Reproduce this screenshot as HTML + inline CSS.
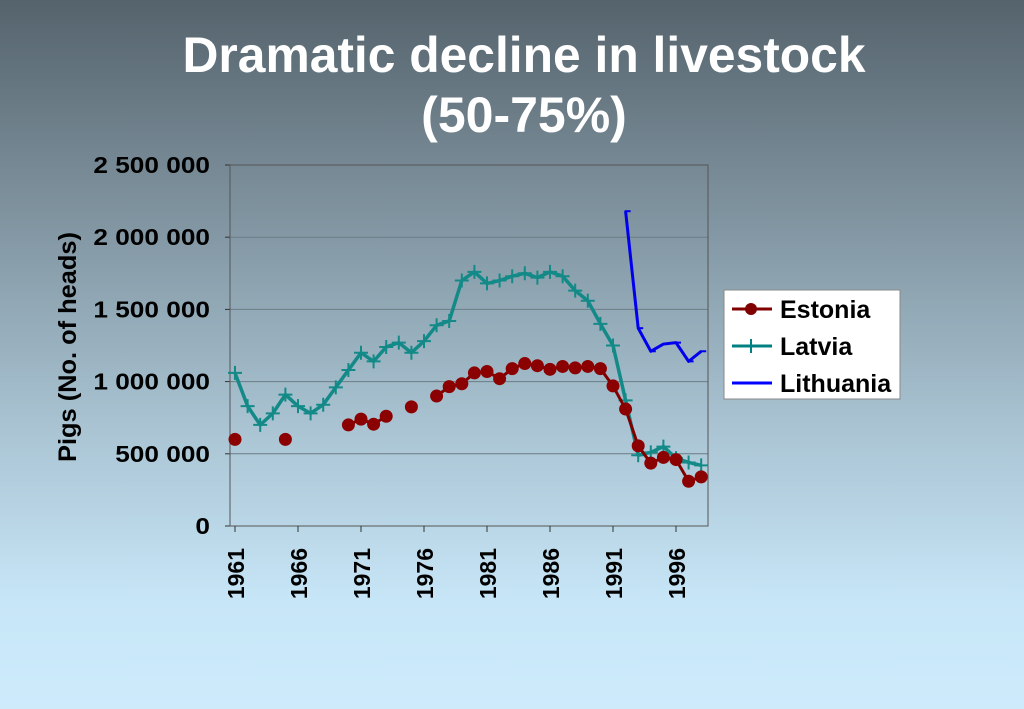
<!DOCTYPE html>
<html><head><meta charset="utf-8"><style>
html,body{margin:0;padding:0}
body{width:1024px;height:709px;overflow:hidden;background:linear-gradient(#55636c 0%,#7f939f 30%,#a9c3d2 60%,#c7e6f7 85%,#cdebfb 100%);font-family:"Liberation Sans",Arial,sans-serif}
svg{display:block}
</style></head><body>
<svg width="1024" height="709">
<text x="524" y="72" text-anchor="middle" font-size="50" font-weight="bold" fill="#fff" textLength="683" lengthAdjust="spacingAndGlyphs">Dramatic decline in livestock</text>
<text x="524" y="132" text-anchor="middle" font-size="50" font-weight="bold" fill="#fff">(50-75%)</text>
<g id="plot"></g>
<text transform="translate(76,347) rotate(-90)" text-anchor="middle" font-size="25" font-weight="bold" fill="#000" textLength="230" lengthAdjust="spacingAndGlyphs">Pigs (No. of heads)</text>
<g>
<rect x="724" y="290" width="176" height="109" fill="#fff" stroke="#888"/>
<g><line x1="732" x2="772" y1="309" y2="309" stroke="#800000" stroke-width="3"/><circle cx="751" cy="309" r="6" fill="#800000"/><text x="780" y="318" font-size="25" font-weight="bold">Estonia</text></g>
<g><line x1="732" x2="772" y1="346" y2="346" stroke="#008080" stroke-width="3"/><line x1="751" x2="751" y1="339" y2="353" stroke="#008080" stroke-width="2"/><text x="780" y="355" font-size="25" font-weight="bold">Latvia</text></g>
<g><line x1="732" x2="772" y1="383" y2="383" stroke="#0000ff" stroke-width="3"/><text x="780" y="392" font-size="25" font-weight="bold">Lithuania</text></g>
</g>
</svg>
<script>
const years=[];for(let y=1961;y<=1998;y++)years.push(y);
const latvia=[1060,830,700,780,910,830,780,840,960,1080,1200,1140,1240,1270,1200,1280,1390,1420,1700,1760,1680,1700,1730,1750,1720,1760,1730,1630,1560,1400,1250,870,490,510,550,470,440,420];
const estonia=[600,null,null,null,600,null,null,null,null,700,740,705,760,null,825,null,900,965,985,1060,1070,1020,1090,1125,1110,1085,1105,1095,1105,1090,970,810,555,435,475,460,310,340];
const lithuania=[null,null,null,null,null,null,null,null,null,null,null,null,null,null,null,null,null,null,null,null,null,null,null,null,null,null,null,null,null,null,null,2180,1370,1210,1260,1270,1140,1210];
const yTicks=[0,500000,1000000,1500000,2000000,2500000];
const yTickLabels=["0","500 000","1 000 000","1 500 000","2 000 000","2 500 000"];
const xTickYears=[1961,1966,1971,1976,1981,1986,1991,1996];
const NS="http://www.w3.org/2000/svg";
const L=230,R=708,T=165,B=526;
const xs=y=>235+(y-1961)*12.6;
const ys=v=>B-(v/2500000)*(B-T);
const g=document.getElementById('plot');
function mk(tag,a){const e=document.createElementNS(NS,tag);for(const k in a)e.setAttribute(k,a[k]);g.appendChild(e);return e;}
yTicks.forEach((t,i)=>{
 const y=ys(t);
 if(t>0){const gl=mk('line',{x1:L,x2:R,y1:y,y2:y,stroke:'#6b7c86','stroke-width':1});
 
 }
 mk('line',{x1:L-5,x2:L,y1:y,y2:y,stroke:'#333'});
 const tx=mk('text',{x:L-20,y:y+8,'text-anchor':'end','font-size':23,'font-weight':'bold','transform':`translate(${L-20},0) scale(1.14,1) translate(${-(L-20)},0)`});tx.textContent=yTickLabels[i];
 
 
});
const fr=mk('rect',{x:L,y:T,width:R-L,height:B-T,fill:'none',stroke:'#555'});


xTickYears.forEach(yr=>{
 const x=xs(yr);
 mk('line',{x1:x,x2:x,y1:B,y2:B+6,stroke:'#333'});
 const tx=mk('text',{transform:`translate(${x+9},${B+22}) rotate(-90)`,'text-anchor':'end','font-size':23,'font-weight':'bold'});tx.textContent=yr;
 
 
});
function path(arr,color,w,name){
 let d='',pen=false;
 arr.forEach((v,i)=>{if(v==null){pen=false;return;}d+=(pen?'L':'M')+xs(years[i])+' '+ys(v*1000)+' ';pen=true;});
 const p=mk('path',{d,fill:'none',stroke:color,'stroke-width':w,'stroke-linejoin':'round'});
 
 
}
path(latvia,'#138a87',3.5,'latvia-line');
latvia.forEach((v,i)=>{const x=xs(years[i]),y=ys(v*1000);
 const m=mk('path',{d:`M${x-7} ${y}H${x+7}M${x} ${y-7}V${y+7}`,stroke:'#138a87','stroke-width':2});
 
 });
path(estonia,'#800000',3,'estonia-line');
estonia.forEach((v,i)=>{if(v==null)return;
 const c=mk('circle',{cx:xs(years[i]),cy:ys(v*1000),r:6.5,fill:'#8b0000'});
 
 });
path(lithuania,'#0000ee',3,'lithuania-line');
lithuania.forEach((v,i)=>{if(v==null)return;const x=xs(years[i]),y=ys(v*1000);
 const m=mk('line',{x1:x-1,x2:x+5,y1:y,y2:y,stroke:'#0000ee','stroke-width':2});
 
 });
</script>
</body></html>
